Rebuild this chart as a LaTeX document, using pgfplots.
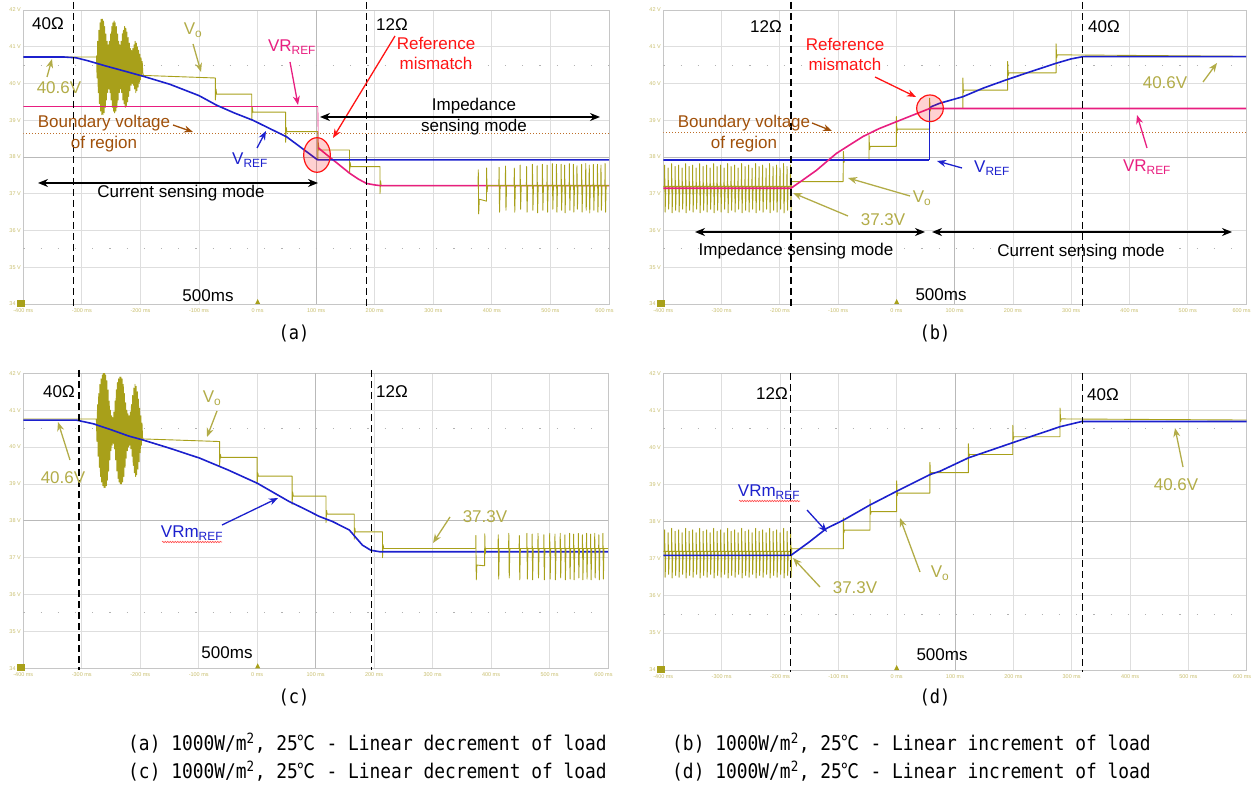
\documentclass[border=0pt]{standalone}
\usepackage{pgfplots}
\pgfplotsset{compat=1.18}
\usepackage{pgfplotstable}
\usepackage{fontspec}
\setmainfont{Liberation Sans}
\newfontfamily\capfont{DejaVu Sans Mono}
\newfontfamily\cjk{Noto Sans CJK KR}
\usetikzlibrary{arrows.meta,decorations.pathmorphing}

\definecolor{vo}{RGB}{168,160,26}
\definecolor{volbl}{RGB}{178,172,72}
\definecolor{vref}{RGB}{28,32,205}
\definecolor{vrref}{RGB}{232,30,128}
\definecolor{brn}{RGB}{160,80,10}
\definecolor{brndot}{RGB}{190,110,40}
\definecolor{tickc}{RGB}{200,190,110}
\definecolor{gridc}{RGB}{222,222,222}
\definecolor{mism}{RGB}{255,20,20}

\newcommand{\fs}{\fontsize{17}{19}\selectfont}
\newcommand{\capscale}[1]{\scalebox{1}[1.13]{#1}}

\pgfplotstableread[row sep=\\]{
x y\\
376.5 37.22\\ 376.8 37.65\\ 377.5 36.45\\ 378.5 36.85\\ 390.8 36.8\\ 391.0 37.7\\ 391.8 37.05\\ 392.8 37.22\\
412.0 37.22\\ 412.3 37.72\\ 413.1 36.5\\ 414.1 37.22\\
423.0 37.22\\ 423.3 37.75\\ 424.1 36.55\\ 425.1 37.22\\
438.0 37.22\\ 438.3 37.7\\ 439.1 36.5\\ 440.1 37.22\\
448.0 37.22\\ 448.3 37.78\\ 449.1 36.58\\ 450.1 37.22\\
459.0 37.22\\ 459.3 37.74\\ 460.1 36.5\\ 461.1 37.22\\
469.0 37.22\\ 469.3 37.8\\ 470.1 36.55\\ 471.1 37.22\\
477.0 37.22\\ 477.3 37.76\\ 478.1 36.48\\ 479.1 37.22\\
486.0 37.22\\ 486.3 37.8\\ 487.1 36.55\\ 488.1 37.22\\
494.0 37.22\\ 494.3 37.78\\ 495.1 36.5\\ 496.1 37.22\\
503.0 37.22\\ 503.3 37.82\\ 504.1 36.58\\ 505.1 37.22\\
510.0 37.22\\ 510.3 37.8\\ 511.1 36.5\\ 512.1 37.22\\
518.0 37.22\\ 518.3 37.8\\ 519.1 36.55\\ 520.1 37.22\\
524.0 37.22\\ 524.3 37.78\\ 525.1 36.48\\ 526.1 37.22\\
532.0 37.22\\ 532.3 37.82\\ 533.1 36.55\\ 534.1 37.22\\
539.0 37.22\\ 539.3 37.8\\ 540.1 36.5\\ 541.1 37.22\\
545.0 37.22\\ 545.3 37.76\\ 546.1 36.58\\ 547.1 37.22\\
553.0 37.22\\ 553.3 37.8\\ 554.1 36.5\\ 555.1 37.22\\
560.0 37.22\\ 560.3 37.82\\ 561.1 36.55\\ 562.1 37.22\\
566.0 37.22\\ 566.3 37.78\\ 567.1 36.48\\ 568.1 37.22\\
573.0 37.22\\ 573.3 37.8\\ 574.1 36.55\\ 575.1 37.22\\
580.0 37.22\\ 580.3 37.8\\ 581.1 36.5\\ 582.1 37.22\\
586.0 37.22\\ 586.3 37.78\\ 587.1 36.55\\ 588.1 37.22\\
593.0 37.22\\ 593.3 37.82\\ 594.1 36.5\\ 595.1 37.22\\
600.0 37.22\\
}\trainA

\pgfplotstableread[row sep=\\]{
x y\\
373.7 37.25\\ 374.0 37.6\\ 374.7 36.4\\ 375.7 36.8\\ 389.0 36.78\\ 389.2 37.65\\ 390.0 37.1\\ 391.0 37.25\\
412.0 37.25\\ 412.3 37.62\\ 413.1 36.42\\ 414.1 37.25\\
430.0 37.25\\ 430.3 37.66\\ 431.1 36.45\\ 432.1 37.25\\
448.0 37.25\\ 448.3 37.6\\ 449.1 36.4\\ 450.1 37.25\\
461.0 37.25\\ 461.3 37.66\\ 462.1 36.42\\ 463.1 37.25\\
470.0 37.25\\ 470.3 37.64\\ 471.1 36.4\\ 472.1 37.25\\
480.0 37.25\\ 480.3 37.66\\ 481.1 36.45\\ 482.1 37.25\\
490.0 37.25\\ 490.3 37.62\\ 491.1 36.4\\ 492.1 37.25\\
500.0 37.25\\ 500.3 37.66\\ 501.1 36.42\\ 502.1 37.25\\
509.0 37.25\\ 509.3 37.64\\ 510.1 36.4\\ 511.1 37.25\\
518.0 37.25\\ 518.3 37.66\\ 519.1 36.45\\ 520.1 37.25\\
526.0 37.25\\ 526.3 37.62\\ 527.1 36.4\\ 528.1 37.25\\
534.0 37.25\\ 534.3 37.66\\ 535.1 36.42\\ 536.1 37.25\\
541.0 37.25\\ 541.3 37.64\\ 542.1 36.4\\ 543.1 37.25\\
549.0 37.25\\ 549.3 37.66\\ 550.1 36.45\\ 551.1 37.25\\
556.0 37.25\\ 556.3 37.62\\ 557.1 36.4\\ 558.1 37.25\\
563.0 37.25\\ 563.3 37.66\\ 564.1 36.42\\ 565.1 37.25\\
570.0 37.25\\ 570.3 37.64\\ 571.1 36.4\\ 572.1 37.25\\
577.0 37.25\\ 577.3 37.66\\ 578.1 36.45\\ 579.1 37.25\\
584.0 37.25\\ 584.3 37.62\\ 585.1 36.4\\ 586.1 37.25\\
591.0 37.25\\ 591.3 37.66\\ 592.1 36.42\\ 593.1 37.25\\
600.0 37.25\\
}\trainC

\pgfplotstableread[row sep=\\]{
x y\\
-400 37.2\\
-398 37.2\\ -397.7 37.78\\ -396.8 36.5\\ -395.8 37.2\\
-392 37.2\\ -391.7 37.7\\ -390.8 36.58\\ -389.8 37.2\\
-386 37.2\\ -385.7 37.82\\ -384.8 36.48\\ -383.8 37.2\\
-380 37.2\\ -379.7 37.74\\ -378.8 36.55\\ -377.8 37.2\\
-374 37.2\\ -373.7 37.78\\ -372.8 36.5\\ -371.8 37.2\\
-368 37.2\\ -367.7 37.7\\ -366.8 36.58\\ -365.8 37.2\\
-362 37.2\\ -361.7 37.82\\ -360.8 36.48\\ -359.8 37.2\\
-356 37.2\\ -355.7 37.74\\ -354.8 36.55\\ -353.8 37.2\\
-350 37.2\\ -349.7 37.78\\ -348.8 36.5\\ -347.8 37.2\\
-344 37.2\\ -343.7 37.7\\ -342.8 36.58\\ -341.8 37.2\\
-338 37.2\\ -337.7 37.82\\ -336.8 36.48\\ -335.8 37.2\\
-332 37.2\\ -331.7 37.74\\ -330.8 36.55\\ -329.8 37.2\\
-326 37.2\\ -325.7 37.78\\ -324.8 36.5\\ -323.8 37.2\\
-320 37.2\\ -319.7 37.7\\ -318.8 36.58\\ -317.8 37.2\\
-314 37.2\\ -313.7 37.82\\ -312.8 36.48\\ -311.8 37.2\\
-308 37.2\\ -307.7 37.74\\ -306.8 36.55\\ -305.8 37.2\\
-302 37.2\\ -301.7 37.78\\ -300.8 36.5\\ -299.8 37.2\\
-296 37.2\\ -295.7 37.7\\ -294.8 36.58\\ -293.8 37.2\\
-290 37.2\\ -289.7 37.82\\ -288.8 36.48\\ -287.8 37.2\\
-284 37.2\\ -283.7 37.74\\ -282.8 36.55\\ -281.8 37.2\\
-278 37.2\\ -277.7 37.78\\ -276.8 36.5\\ -275.8 37.2\\
-272 37.2\\ -271.7 37.7\\ -270.8 36.58\\ -269.8 37.2\\
-266 37.2\\ -265.7 37.82\\ -264.8 36.48\\ -263.8 37.2\\
-260 37.2\\ -259.7 37.74\\ -258.8 36.55\\ -257.8 37.2\\
-254 37.2\\ -253.7 37.78\\ -252.8 36.5\\ -251.8 37.2\\
-248 37.2\\ -247.7 37.7\\ -246.8 36.58\\ -245.8 37.2\\
-242 37.2\\ -241.7 37.82\\ -240.8 36.48\\ -239.8 37.2\\
-236 37.2\\ -235.7 37.74\\ -234.8 36.55\\ -233.8 37.2\\
-230 37.2\\ -229.7 37.78\\ -228.8 36.5\\ -227.8 37.2\\
-224 37.2\\ -223.7 37.7\\ -222.8 36.58\\ -221.8 37.2\\
-218 37.2\\ -217.7 37.82\\ -216.8 36.48\\ -215.8 37.2\\
-212 37.2\\ -211.7 37.74\\ -210.8 36.55\\ -209.8 37.2\\
-206 37.2\\ -205.7 37.78\\ -204.8 36.5\\ -203.8 37.2\\
-200 37.2\\ -199.7 37.7\\ -198.8 36.58\\ -197.8 37.2\\
-194 37.2\\ -193.7 37.82\\ -192.8 36.48\\ -191.8 37.2\\
-188 37.2\\ -187.7 37.74\\ -186.8 36.55\\ -185.8 37.2\\
-182 37.2\\ -181.7 37.78\\ -180.8 36.5\\ -180.0 37.3\\
}\trainB

\pgfplotsset{osc/.style={
  scale only axis, xmin=-400, xmax=600, ymin=34, ymax=42,
  xtick={-400,-300,...,600},
  xticklabels={-400 ms,-300 ms,-200 ms,-100 ms,0 ms,100 ms,200 ms,300 ms,400 ms,500 ms,600 ms\hspace*{9pt}},
  ytick={34,35,...,42},
  yticklabels={34 V,35 V,36 V,37 V,38 V,39 V,40 V,41 V,42 V},
  major tick length=0pt,
  grid=major, major grid style={draw=gridc, line width=0.8pt},
  axis line style={draw=gray!45, line width=0.8pt},
  tick label style={font=\fontsize{5.5}{6}\selectfont, text=tickc},
  xticklabel style={yshift=-1pt},
  yticklabel style={xshift=1pt},
  every axis plot/.append style={line join=round},
  execute at begin axis={
    \draw[gray!55, line width=0.8pt] (axis cs:100,34) -- (axis cs:100,42);
    \draw[gray!55, line width=0.8pt] (axis cs:-400,38) -- (axis cs:600,38);
    \draw[gray!60, line width=1pt, dash pattern=on 1.2pt off 16pt] (axis cs:-400,40.5) -- (axis cs:600,40.5);
    \draw[gray!60, line width=1pt, dash pattern=on 1.2pt off 16pt] (axis cs:-400,35.5) -- (axis cs:600,35.5);
  },
}}
\tikzset{
  ca/.style={-{Stealth[length=9pt,width=7pt]}, line width=1.3pt},
  da/.style={{Stealth[length=10pt,width=8pt]}-{Stealth[length=10pt,width=8pt]}, line width=1.6pt, black},
  vl/.style={black, line width=1.3pt, dash pattern=on 7pt off 4pt},
}

\begin{document}
\begin{tikzpicture}
\useasboundingbox (0,0) rectangle (1252pt,793pt);

% ---------------- (a)
\begin{axis}[osc, at={(23.3pt,489pt)}, anchor=south west, width=585.7pt, height=294pt]
\addplot[brndot, line width=1pt, dotted] coordinates {(-400,38.645) (600,38.645)};
\addplot[vo, line width=0.9pt] coordinates {(-400,40.72) (-275,40.72)
(-275,40.75)(-274,40.15)(-273,41.15)(-272,39.75)(-271,41.45)(-270,39.45)(-269,41.65)(-268,39.25)(-267,41.75)(-266,39.15)(-265,41.75)(-264,39.15)(-263,41.7)(-262,39.2)(-261,41.55)(-260,39.35)(-259,41.35)(-258,39.55)(-257,41.15)(-256,39.75)(-255,41.05)(-254,39.85)(-253,41.15)(-252,39.75)(-251,41.35)(-250,39.55)(-249,41.55)(-248,39.35)(-247,41.65)(-246,39.25)(-245,41.7)(-244,39.2)(-243,41.65)(-242,39.25)(-241,41.55)(-240,39.35)(-239,41.35)(-238,39.55)(-237,41.15)(-236,39.75)(-235,41.05)(-234,39.85)(-233,41.15)(-232,39.75)(-231,41.35)(-230,39.55)(-229,41.45)(-228,39.45)(-227,41.55)(-226,39.35)(-225,41.5)(-224,39.4)(-223,41.4)(-222,39.5)(-221,41.25)(-220,39.65)(-219,41.1)(-218,39.8)(-217,40.95)(-216,39.95)(-215,40.9)(-214,40.0)(-213,40.95)(-212,39.95)(-211,41.05)(-210,39.85)(-209,41.15)(-208,39.75)(-207,41.1)(-206,39.8)(-205,41.0)(-204,39.9)(-203,40.9)(-202,40.0)(-201,40.8)(-200,40.1)(-199,40.7)(-198,40.2)(-197,40.6)(-196,40.3)(-195,40.22)
(-72,40.15)(-72,39.55)(-71,39.85)(-70,39.71)(-10,39.71)(-10,39.0)(-9,39.35)(-8,39.22)(48,39.22)(48,38.4)(49,38.8)(50,38.69)(103,38.69)(103,37.95)(103.5,38.4)(105,38.22)(106,38.19)(157,38.19)(157,37.55)(158,37.85)(159,37.74)(209,37.74)(209,37.0)(210,37.35)(211,37.22)(376.5,37.22)};
\addplot[vrref, line width=1.6pt] coordinates {(-400,39.37)(103,39.37)};
\addplot[vrref, line width=0.6pt] coordinates {(103,39.37)(103.5,38.25)};
\addplot[vrref, line width=1.6pt] coordinates {(103.5,38.25)(115,38.1)(129,37.92)(143,37.74)(157,37.56)(172,37.4)(186,37.28)(200,37.24)(210,37.22)(600,37.22)};
\addplot[vref, line width=1.6pt] coordinates {(-400,40.72)(-330,40.72)(-310,40.7)(-290,40.62)(-260,40.48)(-230,40.35)(-196,40.2)(-150,39.98)(-100,39.67)(-70,39.41)(-40,39.2)(-8,39.0)(20,38.78)(49.5,38.55)(79,38.2)(100,37.95)(103,37.92)(600,37.92)};
\addplot[vo, line width=0.9pt] table {\trainA};
\end{axis}

% ---------------- (b)
\begin{axis}[osc, at={(663.3pt,489pt)}, anchor=south west, width=582.7pt, height=294pt]
\addplot[brndot, line width=1pt, dotted] coordinates {(-400,38.66) (600,38.66)};
\addplot[vo, line width=0.9pt] table {\trainB};
\addplot[vo, line width=0.9pt] coordinates {(-180,37.33)(-91.4,37.33)(-91,38.15)(-90,37.85)(-89,37.92)(-47,37.92)(-47,38.6)(-46,38.2)(-45,38.29)(0,38.29)(0,39.1)(1,38.7)(2,38.76)(57,38.76)(57,39.6)(58,39.25)(59,39.32)(114,39.32)(114,40.15)(115,39.75)(116,39.82)(191,39.82)(191,40.6)(192,40.22)(193,40.29)(274,40.29)(274,41.08)(275,40.7)(276,40.78)(600,40.74)};
\addplot[vref, line width=1.6pt] coordinates {(-400,37.92)(56,37.92)};
\addplot[vref, line width=0.6pt] coordinates {(56,37.92)(56,39.3)};
\addplot[vref, line width=1.6pt] coordinates {(56,39.3)(60,39.37)(74,39.46)(114,39.64)(150,39.88)(188.7,40.1)(230,40.32)(274,40.55)(300,40.67)(320,40.73)(600,40.73)};
\addplot[vrref, line width=1.6pt] coordinates {(-400,37.15)(-181,37.15)(-160,37.38)(-137,37.64)(-120,37.87)(-102.7,38.1)(-80,38.33)(-57,38.56)(-30,38.77)(0,38.96)(30,39.15)(57.2,39.32)(600,39.32)};
\end{axis}

% ---------------- (c)
\begin{axis}[osc, at={(23.3pt,124.7pt)}, anchor=south west, width=584.7pt, height=295pt]
\addplot[vo, line width=0.9pt] coordinates {(-400,40.76) (-275,40.76)
(-275,40.75)(-274,40.15)(-273,41.15)(-272,39.75)(-271,41.45)(-270,39.45)(-269,41.7)(-268,39.2)(-267,41.85)(-266,39.05)(-265,41.95)(-264,38.95)(-263,42.0)(-262,38.9)(-261,42.0)(-260,38.9)(-259,41.95)(-258,38.95)(-257,41.8)(-256,39.1)(-255,41.55)(-254,39.35)(-253,41.25)(-252,39.65)(-251,41.0)(-250,39.9)(-249,40.85)(-248,40.05)(-247,40.8)(-246,40.1)(-245,40.95)(-244,39.95)(-243,41.25)(-242,39.65)(-241,41.55)(-240,39.35)(-239,41.75)(-238,39.15)(-237,41.85)(-236,39.05)(-235,41.9)(-234,39.0)(-233,41.9)(-232,39.0)(-231,41.85)(-230,39.05)(-229,41.7)(-228,39.2)(-227,41.45)(-226,39.45)(-225,41.2)(-224,39.7)(-223,41.0)(-222,39.9)(-221,40.9)(-220,40.0)(-219,40.85)(-218,40.05)(-217,40.95)(-216,39.95)(-215,41.15)(-214,39.75)(-213,41.4)(-212,39.5)(-211,41.6)(-210,39.3)(-209,41.7)(-208,39.2)(-207,41.65)(-206,39.25)(-205,41.5)(-204,39.4)(-203,41.3)(-202,39.6)(-201,41.05)(-200,39.85)(-199,40.85)(-198,40.05)(-197,40.65)(-196,40.25)(-195,40.22)
(-64.3,40.15)(-64.3,39.5)(-63,39.8)(-62,39.72)(0,39.72)(0,39.0)(1,39.3)(2,39.21)(59.7,39.21)(59.7,38.45)(60.7,38.78)(61.7,38.67)(117.7,38.67)(117.7,37.95)(118.7,38.28)(119.7,38.18)(166,38.18)(166,37.5)(167,37.8)(168,37.7)(214.3,37.7)(214.3,37.0)(215.3,37.35)(216.3,37.25)(373.7,37.25)};
\addplot[vref, line width=1.6pt] coordinates {(-400,40.73)(-309,40.73)(-280,40.63)(-250,40.47)(-220,40.3)(-195,40.19)(-150,39.97)(-98.4,39.7)(-50,39.38)(0,39.02)(55,38.52)(80,38.33)(106,38.12)(129,37.98)(157.6,37.75)(180,37.34)(194.5,37.2)(210,37.16)(600,37.16)};
\addplot[vo, line width=0.9pt] table {\trainC};
\end{axis}

% ---------------- (d)
\begin{axis}[osc, at={(663.3pt,123pt)}, anchor=south west, width=583.4pt, height=296.7pt]
\addplot[vo, line width=0.9pt] table {\trainB};
\addplot[vo, line width=0.9pt] coordinates {(-180,37.27)(-91.4,37.27)(-91.4,38.1)(-90.5,37.7)(-89.5,37.77)(-45.7,37.77)(-45.7,38.6)(-44.7,38.2)(-43.7,38.27)(0,38.27)(0,39.1)(1,38.7)(2,38.77)(57,38.77)(57,39.6)(58,39.25)(59,39.32)(122.9,39.32)(122.9,40.1)(123.9,39.75)(124.9,39.81)(199,39.81)(199,40.6)(200,40.22)(201,40.29)(280,40.29)(280,41.06)(281,40.7)(282,40.77)(600,40.74)};
\addplot[vref, line width=1.6pt] coordinates {(-400,37.09)(-181.4,37.09)(-150,37.45)(-120,37.82)(-91.4,38.04)(-45.7,38.45)(0,38.82)(57,39.27)(74.3,39.36)(122.9,39.72)(199,40.13)(280,40.56)(317,40.7)(600,40.7)};
\end{axis}

% ---------------- annotations (pixel coordinates, y downward)
\begin{scope}[x=1pt,y=-1pt,shift={(0pt,793pt)}]
\foreach \xx/\yy in {23.3/304, 663.3/304, 23.3/668.3, 663.3/670}{
  \fill[vo] (\xx-6,\yy-4) rectangle (\xx+2,\yy+3);
}
\foreach \xx/\yy in {257.7/304, 896.7/304, 257.7/668.3, 896.7/670}{
  \fill[vo] (\xx-2.5,\yy) -- (\xx+2.5,\yy) -- (\xx,\yy-5) -- cycle;
}

% (a)
\draw[vl] (73.3,2) -- (73.3,306);
\draw[vl] (366.7,2) -- (366.7,306);
\fill[red, opacity=0.18] (317,155) ellipse [x radius=13.3pt, y radius=17.3pt];
\draw[mism, line width=1.2pt] (317,155) ellipse [x radius=13.3pt, y radius=17.3pt];
\node[font=\fs] at (48,24) {40Ω};
\node[font=\fs] at (392,25) {12Ω};
\node[font=\fs, text=volbl] at (193,30) {V\textsubscript{o}};
\draw[ca, volbl] (193,44) -- (201,72);
\node[font=\fs, text=volbl] at (59,88) {40.6V};
\draw[ca, volbl] (47,77) -- (52,59);
\node[font=\fs, text=vrref] at (292,47) {VR\textsubscript{REF}};
\draw[ca, vrref] (290,62) -- (298,105);
\node[font=\fs, text=mism] at (436,43) {Reference};
\node[font=\fs, text=mism] at (436,63) {mismatch};
\draw[ca, mism] (395,36) -- (333,138);
\node[font=\fs] at (474,106) {Impedance};
\node[font=\fs] at (474,127) {sensing mode};
\draw[da] (320,117) -- (600,117);
\node[font=\fs, text=brn] at (104,123) {Boundary voltage};
\node[font=\fs, text=brn] at (104,144) {of region};
\draw[ca, brn] (173,125) -- (193,132);
\node[font=\fs, text=vref] at (250,160) {V\textsubscript{REF}};
\draw[ca, vref] (257,148) -- (266,131);
\node[font=\fs] at (181,193) {Current sensing mode};
\draw[da] (38,183) -- (318,183);
\node[font=\fs] at (208,296) {500ms};
\node[font=\capfont\fontsize{17}{19}\selectfont] at (294,333) {\capscale{(a)}};

% (b)
\draw[vl] (791,2) -- (791,306);
\draw[vl] (1082.7,2) -- (1082.7,306);
\fill[red, opacity=0.18] (930,108.3) circle [radius=13.3pt];
\draw[mism, line width=1.2pt] (930,108.3) circle [radius=13.3pt];
\node[font=\fs] at (766,27) {12Ω};
\node[font=\fs] at (1104,27) {40Ω};
\node[font=\fs, text=mism] at (845,44) {Reference};
\node[font=\fs, text=mism] at (845,64) {mismatch};
\draw[ca, mism] (875,77) -- (916,97);
\node[font=\fs, text=brn] at (744,123) {Boundary voltage};
\node[font=\fs, text=brn] at (744,144) {of region};
\draw[ca, brn] (812,123) -- (832,131);
\node[font=\fs, text=vref] at (992,168) {V\textsubscript{REF}};
\draw[ca, vref] (962,168) -- (937,161);
\node[font=\fs, text=vrref] at (1147,167) {VR\textsubscript{REF}};
\draw[ca, vrref] (1147,148) -- (1137,115);
\node[font=\fs, text=volbl] at (1165,83) {40.6V};
\draw[ca, volbl] (1203,82) -- (1217,63);
\node[font=\fs, text=volbl] at (922,198) {V\textsubscript{o}};
\draw[ca, volbl] (910,196) -- (848,178);
\node[font=\fs, text=volbl] at (883,220) {37.3V};
\draw[ca, volbl] (848,216) -- (793,193);
\node[font=\fs] at (796,251) {Impedance sensing mode};
\draw[da] (695,232) -- (925,232);
\node[font=\fs] at (1081,252) {Current sensing mode};
\draw[da] (932,232) -- (1232,232);
\node[font=\fs] at (941,295) {500ms};
\node[font=\capfont\fontsize{17}{19}\selectfont] at (935,333) {\capscale{(b)}};

% (c)
\draw[vl] (79,370) -- (79,670);
\draw[vl] (371.7,370) -- (371.7,670);
\node[font=\fs] at (59,392) {40Ω};
\node[font=\fs] at (392,392) {12Ω};
\node[font=\fs, text=volbl] at (212,398) {V\textsubscript{o}};
\draw[ca, volbl] (217,411) -- (207,437);
\node[font=\fs, text=volbl] at (63,478) {40.6V};
\draw[ca, volbl] (70,460) -- (58,422);
\node[font=\fs, text=vref] at (192,533) {VRm\textsubscript{REF}};
\draw[red!70, line width=0.6pt, decorate, decoration={snake, amplitude=0.7pt, segment length=2.5pt}] (162,542) -- (222,542);
\draw[ca, vref] (222,525) -- (278,498);
\node[font=\fs, text=volbl] at (485,517) {37.3V};
\draw[ca, volbl] (450,517) -- (433,543);
\node[font=\fs] at (227,653) {500ms};
\node[font=\capfont\fontsize{17}{19}\selectfont] at (294,697) {\capscale{(c)}};

% (d)
\draw[vl] (790.7,373) -- (790.7,672);
\draw[vl] (1082.3,373) -- (1082.3,672);
\node[font=\fs] at (772,394) {12Ω};
\node[font=\fs] at (1103,395) {40Ω};
\node[font=\fs, text=vref] at (769,492) {VRm\textsubscript{REF}};
\draw[red!70, line width=0.6pt, decorate, decoration={snake, amplitude=0.7pt, segment length=2.5pt}] (739,501) -- (800,501);
\draw[ca, vref] (807,510) -- (827,532);
\node[font=\fs, text=volbl] at (855,588) {37.3V};
\draw[ca, volbl] (820,587) -- (793,558);
\node[font=\fs, text=volbl] at (940,573) {V\textsubscript{o}};
\draw[ca, volbl] (920,572) -- (900,518);
\node[font=\fs, text=volbl] at (1176,485) {40.6V};
\draw[ca, volbl] (1183,467) -- (1175,428);
\node[font=\fs] at (942,655) {500ms};
\node[font=\capfont\fontsize{17}{19}\selectfont] at (935,697) {\capscale{(d)}};

% captions
\node[anchor=west, font=\capfont\fontsize{17.9}{19}\selectfont, inner sep=0pt] at (128,743) {\capscale{(a) 1000W/m\textsuperscript{2}, 25{\cjk ℃} - Linear decrement of load}};
\node[anchor=west, font=\capfont\fontsize{17.9}{19}\selectfont, inner sep=0pt] at (672,743) {\capscale{(b) 1000W/m\textsuperscript{2}, 25{\cjk ℃} - Linear increment of load}};
\node[anchor=west, font=\capfont\fontsize{17.9}{19}\selectfont, inner sep=0pt] at (128,771) {\capscale{(c) 1000W/m\textsuperscript{2}, 25{\cjk ℃} - Linear decrement of load}};
\node[anchor=west, font=\capfont\fontsize{17.9}{19}\selectfont, inner sep=0pt] at (672,771) {\capscale{(d) 1000W/m\textsuperscript{2}, 25{\cjk ℃} - Linear increment of load}};
\end{scope}
\end{tikzpicture}
\end{document}
